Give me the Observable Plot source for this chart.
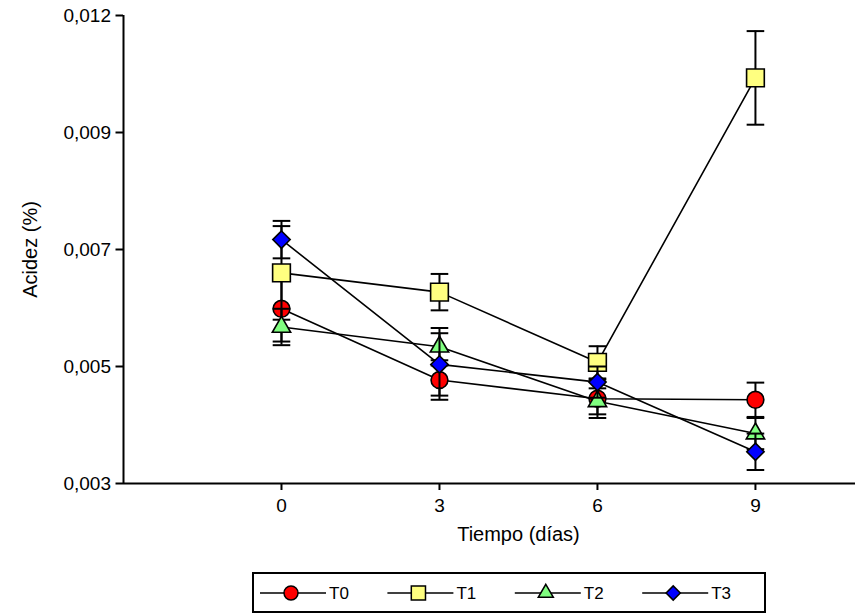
<!DOCTYPE html>
<html><head><meta charset="utf-8">
<script src="https://cdn.jsdelivr.net/npm/d3@7"></script>
<script src="https://cdn.jsdelivr.net/npm/@observablehq/plot@0.6"></script>
<style>
body{margin:0;background:#fff;font-family:"Liberation Sans",Arial,sans-serif;}
#wrap{position:relative;width:856px;height:615px;overflow:hidden;}
#legend{position:absolute;left:252px;top:572px;}
</style></head><body><div id="wrap"><div id="chart"></div><div id="legend"></div></div>
<script>
// ---- data ----
const days = [0, 3, 6, 9];
const seriesNames = ["T0", "T1", "T2", "T3"];
const T0 = [0.00636, 0.00499, 0.00463, 0.00461];
const T0err = [0.00063, 0.00038, 0.00037, 0.00033];
const T1 = [0.00705, 0.00668, 0.00533, 0.01080];
const T1err = [0.00090, 0.00035, 0.00031, 0.00090];
const T2 = [0.00601, 0.00563, 0.00458, 0.00396];
const T2err = [0.00035, 0.00036, 0.00025, 0.00030];
const T3 = [0.00769, 0.00529, 0.00495, 0.00361];
const T3err = [0.00036, 0.00060, 0.00030, 0.00035];
const yTicks = [0.003, 0.00525, 0.0075, 0.00975, 0.012];
const yTickLabels = ["0,003", "0,005", "0,007", "0,009", "0,012"];
const xTicks = [0, 3, 6, 9];
const xDomain = [-3, 10.9];
const yDomain = [0.003, 0.012];
const xLabel = "Tiempo (días)";
const yLabel = "Acidez (%)";

// ---- styles ----
const colors = ["#ff0000", "#ffff80", "#80ff80", "#0000ff"];
const symbols = ["circle", "square", "triangle", "diamond2"];
const symR = [8.4, 10, 6.8, 7.8];
const FONT = "Liberation Sans, Arial, sans-serif";

const values = [T0, T1, T2, T3];
const errs = [T0err, T1err, T2err, T3err];
const rows = [];
seriesNames.forEach((s, i) => days.forEach((d, j) => rows.push({
  series: s, day: d, value: values[i][j], lo: values[i][j] - errs[i][j], hi: values[i][j] + errs[i][j]
})));

const cap = {draw(ctx, size) { const r = Math.sqrt(size / Math.PI); ctx.moveTo(-r, 0); ctx.lineTo(r, 0); }};

const marks = [
  Plot.ruleX([xDomain[0]], {stroke: "#000", strokeWidth: 2}),
  Plot.ruleY([yDomain[0]], {stroke: "#000", strokeWidth: 2}),
  Plot.axisY({ticks: yTicks, tickFormat: (d, i) => yTickLabels[i], tickSize: 7.5, tickPadding: 5, strokeWidth: 2, label: null, fontSize: 19}),
  Plot.axisX({ticks: xTicks, tickSize: 7, tickPadding: 8, strokeWidth: 2, label: null, fontSize: 19}),
  Plot.text([yLabel], {frameAnchor: "left", rotate: -90, dx: -93, textAnchor: "middle", lineAnchor: "middle", fontSize: 20, text: d => d}),
  Plot.text([xLabel], {x: () => d3.mean(days), frameAnchor: "bottom", dy: 51, textAnchor: "middle", lineAnchor: "middle", fontSize: 20, text: d => d, letterSpacing: "1.6px"})
];
seriesNames.forEach((s, i) => {
  const data = rows.filter(r => r.series === s);
  marks.push(Plot.ruleX(data, {x: "day", y1: "lo", y2: "hi", stroke: "#000", strokeWidth: 2}));
  marks.push(Plot.dot(data, {x: "day", y: "lo", symbol: cap, r: 8.8, stroke: "#000", strokeWidth: 2}));
  marks.push(Plot.dot(data, {x: "day", y: "hi", symbol: cap, r: 8.8, stroke: "#000", strokeWidth: 2}));
  marks.push(Plot.line(data, {x: "day", y: "value", stroke: "#000", strokeWidth: 1.6}));
  marks.push(Plot.dot(data, {x: "day", y: "value", symbol: symbols[i], r: symR[i], fill: colors[i], stroke: "#000", strokeWidth: 1.6}));
});

const chart = Plot.plot({
  width: 856, height: 560,
  marginLeft: 123, marginRight: 1, marginTop: 15, marginBottom: 77,
  style: {fontFamily: FONT, fontSize: "18px", color: "#000", background: "#fff"},
  x: {domain: xDomain},
  y: {domain: yDomain},
  marks
});
document.getElementById("chart").appendChild(chart);

// ---- legend ----
const lw = 514, lh = 41, step = 127.4;
const lsvg = d3.select("#legend").append("svg").attr("width", lw).attr("height", lh)
  .style("font-family", FONT).style("font-size", "17px");
lsvg.append("rect").attr("x", 1).attr("y", 1).attr("width", lw - 2).attr("height", lh - 2)
  .attr("fill", "#fff").attr("stroke", "#000").attr("stroke-width", 2);
const legR = [7, 8, 5.6, 6.4];
const d3sym = {circle: d3.symbolCircle, square: d3.symbolSquare, triangle: d3.symbolTriangle, diamond2: d3.symbolDiamond2};
seriesNames.forEach((s, i) => {
  const g = lsvg.append("g").attr("transform", `translate(${8 + i * step},21)`);
  g.append("line").attr("x1", 0).attr("x2", 66).attr("stroke", "#000").attr("stroke-width", 1.5);
  g.append("path").attr("transform", "translate(31,0)")
    .attr("d", d3.symbol(d3sym[symbols[i]], Math.PI * legR[i] * legR[i])())
    .attr("fill", colors[i]).attr("stroke", "#000").attr("stroke-width", 1.5);
  g.append("text").attr("x", 69).attr("dy", "0.35em").text(s);
});
</script></body></html>
